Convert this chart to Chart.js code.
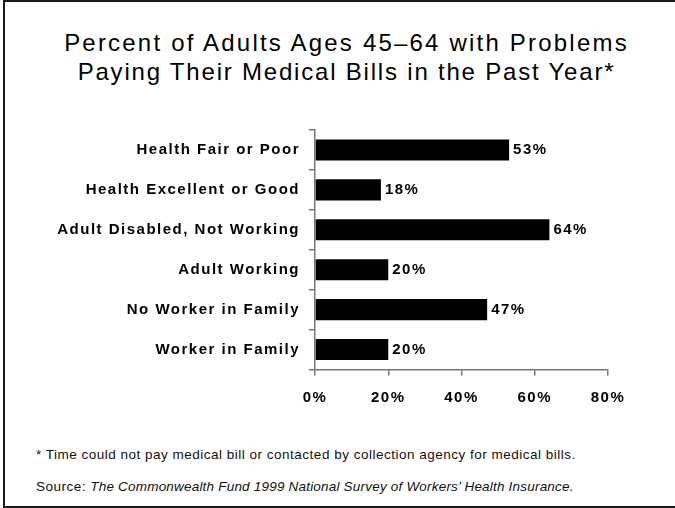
<!DOCTYPE html>
<html lang="en">
<head>
<meta charset="UTF-8">
<title>Problems Paying Medical Bills, Adults 45-64</title>
<script src="https://cdn.jsdelivr.net/npm/chart.js"></script>
<style>
    html, body {
        margin: 0;
        padding: 0;
        background: #fff;
        overflow: hidden;
    }
    .page {
        position: relative;
        width: 675px;
        height: 508px;
        overflow: hidden;
    }
    .frame {
        position: absolute;
        left: 3px;
        top: 0px;
        width: 680px;
        height: 504px;
        border: 2px solid #1a1a1a;
    }
    .title {
        position: absolute;
        left: 9px;
        top: 28px;
        width: 675px;
        text-align: center;
        font-family: "Liberation Sans", Arial, sans-serif;
        font-size: 24px;
        letter-spacing: 2.2px;
        line-height: 29px;
        color: #000;
    }
    .title .second { letter-spacing: 1.8px; }
    .chart-box {
        position: absolute;
        left: 0;
        top: 110px;
        width: 675px;
        height: 310px;
    }
    .note {
        position: absolute;
        left: 36px;
        font-family: "Liberation Sans", Arial, sans-serif;
        font-size: 13.5px;
        letter-spacing: 0.5px;
        color: #111;
        white-space: nowrap;
    }
    .note i { font-style: italic; letter-spacing: 0.2px; }
</style>
</head>
<body>
<div class="page">
    <div class="frame"></div>
    <div class="title">Percent of Adults Ages 45–64 with Problems<br><span class="second">Paying Their Medical Bills in the Past Year*</span></div>
    <div class="chart-box"><canvas id="billsChart" width="675" height="310"></canvas></div>
    <div class="note" style="top:447px">* Time could not pay medical bill or contacted by collection agency for medical bills.</div>
    <div class="note" style="top:479px">Source: <i>The Commonwealth Fund 1999 National Survey of Workers’ Health Insurance.</i></div>
</div>
<script>
    // 数据
    const groups = [
        'Health Fair or Poor',
        'Health Excellent or Good',
        'Adult Disabled, Not Working',
        'Adult Working',
        'No Worker in Family',
        'Worker in Family'
    ];
    const percents = [53, 18, 64, 20, 47, 20];
    const xTicks = [0, 20, 40, 60, 80];

    const boldFont = { family: '"Liberation Sans", Arial, sans-serif', size: 15, weight: 'bold' };

    // 给画布上的文字加字距
    const spacing = {
        id: 'spacing',
        beforeDraw(chart) {
            chart.ctx.letterSpacing = '1.5px';
        }
    };

    // 柱子右侧的百分比
    const valueLabels = {
        id: 'valueLabels',
        afterDatasetsDraw(chart) {
            const ctx = chart.ctx;
            const meta = chart.getDatasetMeta(0);
            ctx.save();
            ctx.font = 'bold 15px "Liberation Sans", Arial, sans-serif';
            ctx.fillStyle = '#000';
            ctx.textAlign = 'left';
            ctx.textBaseline = 'middle';
            meta.data.forEach((bar, i) => {
                ctx.fillText(percents[i] + '%', bar.x + 4, bar.y);
            });
            ctx.restore();
        }
    };

    new Chart(document.getElementById('billsChart'), {
        type: 'bar',
        data: {
            labels: groups,
            datasets: [{
                data: percents,
                backgroundColor: '#000',
                borderWidth: 0,
                barPercentage: 0.53,
                categoryPercentage: 1
            }]
        },
        options: {
            indexAxis: 'y',
            responsive: false,
            animation: false,
            layout: { padding: { left: 0, right: 67, top: 20, bottom: 0 } },
            plugins: {
                legend: { display: false },
                tooltip: { enabled: false }
            },
            scales: {
                x: {
                    min: 0,
                    max: 80,
                    afterFit(scale) { scale.height = 50.5; },
                    afterBuildTicks(scale) {
                        scale.ticks = xTicks.map(v => ({ value: v }));
                    },
                    border: { color: '#777', width: 1.5 },
                    grid: {
                        drawOnChartArea: false,
                        drawTicks: true,
                        tickLength: 6,
                        color: '#777',
                        lineWidth: 1.5
                    },
                    ticks: {
                        padding: 13,
                        color: '#000',
                        font: boldFont,
                        callback: v => v + '%'
                    }
                },
                y: {
                    afterFit(scale) { scale.width = 315; },
                    border: { color: '#777', width: 1.5 },
                    grid: {
                        drawOnChartArea: false,
                        drawTicks: true,
                        tickLength: 6,
                        color: '#777',
                        lineWidth: 1.5
                    },
                    ticks: {
                        padding: 9,
                        color: '#000',
                        font: boldFont
                    }
                }
            }
        },
        plugins: [spacing, valueLabels]
    });
</script>
</body>
</html>
